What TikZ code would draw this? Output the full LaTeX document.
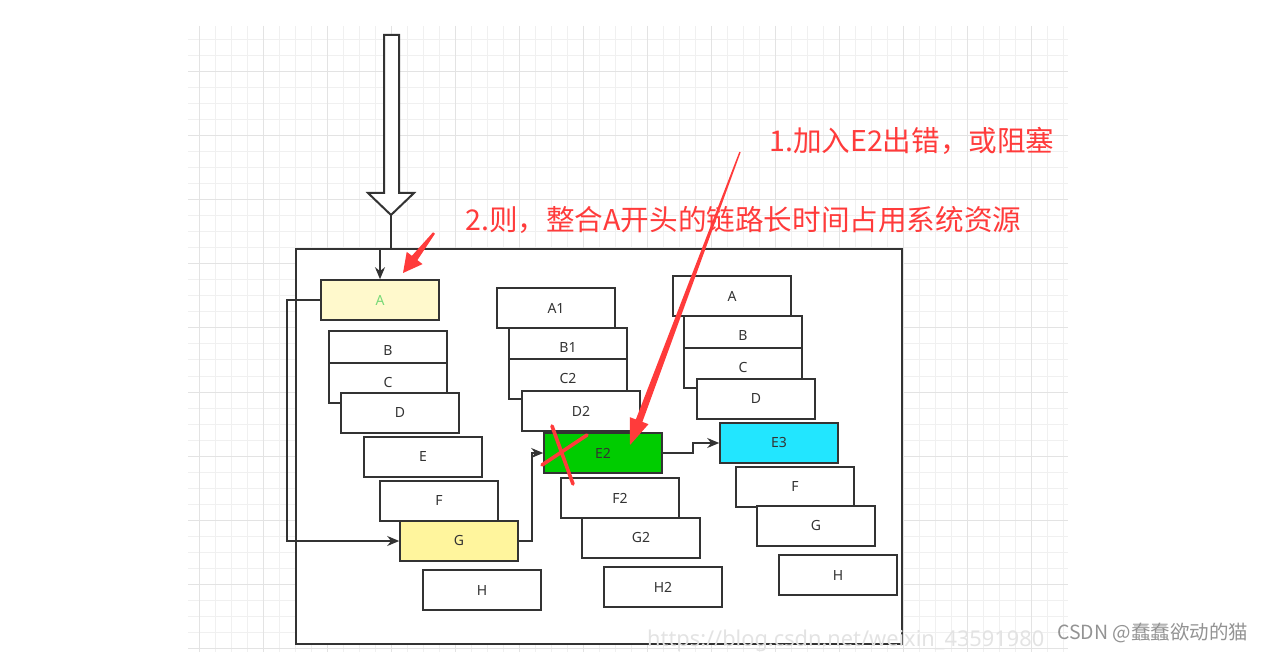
\documentclass[tikz,border=0pt]{standalone}
\usepackage{fontspec}
\setmainfont{Noto Sans}
\newfontfamily\cjk{Noto Sans CJK SC}
\usetikzlibrary{arrows.meta,calc}
\definecolor{linecol}{HTML}{333333}
\definecolor{textcol}{HTML}{333333}
\definecolor{gridcol1}{HTML}{F0F0F0}
\definecolor{gridcol2}{HTML}{E3E3E3}
\definecolor{redcol}{HTML}{FF3B3B}
\definecolor{yellowcol1}{HTML}{FFF9CC}
\definecolor{yellowcol2}{HTML}{FFF59D}
\definecolor{greencol}{HTML}{00CC00}
\definecolor{cyancol}{HTML}{22E6FF}
\definecolor{greentext}{HTML}{77D977}

\begin{document}
\begin{tikzpicture}[x=1pt,y=-1pt,
	box/.style={draw=linecol,line width=1.6pt,minimum width=118pt,minimum height=40pt,inner sep=0pt,font=\fontsize{14}{16}\selectfont},
	flow/.style={draw=linecol,line width=1.6pt,-{Stealth[length=12pt,width=10pt]}},
	note/.style={text=redcol,anchor=west,inner sep=0pt,font=\cjk\fontsize{28.6}{32}\selectfont}]
\useasboundingbox (0,0) rectangle (1264,652);
% grid
\foreach \x in {199,215,...,1063} \draw[gridcol1,line width=1pt] (\x,26) -- (\x,652);
\foreach \y in {40,56,...,648} \draw[gridcol1,line width=1pt] (188,\y) -- (1068,\y);
\foreach \x in {199,263,...,1063} \draw[gridcol2,line width=1pt] (\x,26) -- (\x,652);
\foreach \y in {72,136,...,648} \draw[gridcol2,line width=1pt] (188,\y) -- (1068,\y);
% frame and big arrow
\draw[linecol,line width=2pt,fill=white] (296,249) rectangle (902,644);
\draw[linecol,line width=2pt,fill=white] (384,35) -- (399,35) -- (399,193) -- (414,193) -- (391,215) -- (368,193) -- (384,193) -- cycle;
\coordinate (tip) at (391,215);
% chains
\foreach \name/\lbl/\x/\y/\col/\tcol in {
	c1a/A/380/300/yellowcol1/greentext,
	c1b/B/388/351/white/textcol,
	c1c/C/388/383/white/textcol,
	c1d/D/400/413/white/textcol,
	c1e/E/423/457/white/textcol,
	c1f/F/439/501/white/textcol,
	c1g/G/459/541/yellowcol2/textcol,
	c1h/H/482/590/white/textcol,
	c2a/A1/556/308/white/textcol,
	c2b/B1/568/348/white/textcol,
	c2c/C2/568/379/white/textcol,
	c2d/D2/581/411/white/textcol,
	c2e/E2/603/453/greencol/textcol,
	c2f/F2/620/498/white/textcol,
	c2g/G2/641/538/white/textcol,
	c2h/H2/663/587/white/textcol,
	c3a/A/732/296/white/textcol,
	c3b/B/743/336/white/textcol,
	c3c/C/743/368/white/textcol,
	c3d/D/756/399/white/textcol,
	c3e/E3/779/443/cyancol/textcol,
	c3f/F/795/487/white/textcol,
	c3g/G/816/526/white/textcol,
	c3h/H/838/575/white/textcol%
	}{
	\node[box,fill=\col,text=\tcol] (\name) at (\x,\y) {\lbl};
	}
\draw[flow] (tip) -- ++(0,34) -| (c1a.north);
\draw[flow] (c1a.west) -- ++(-33,0) |- (c1g.west);
\draw[flow] (c1g.east) -- ++(13,0) |- (c2e.west);
\draw[flow] (c2e.east) -- ++(30,0) |- (c3e.west);
% red marks
\draw[redcol,line width=3.6pt,line cap=round] (542,465) -- (587,435) (552,426) -- (573,484);
\coordinate (r1s) at (740,152);
\coordinate (r1t) at (630,445);
\coordinate (r1b) at ($(r1t)!26pt!(r1s)$);
\fill[redcol] ($(r1s)!0.7pt!90:(r1t)$) -- ($(r1b)!3.5pt!90:(r1t)$) -- ($(r1b)!10pt!90:(r1t)$) -- (r1t)
	-- ($(r1b)!10pt!-90:(r1t)$) -- ($(r1b)!3.5pt!-90:(r1t)$) -- ($(r1s)!0.7pt!-90:(r1t)$) -- cycle;
\coordinate (r2s) at (434,233);
\coordinate (r2t) at (403,273);
\coordinate (r2b) at ($(r2t)!19pt!(r2s)$);
\fill[redcol] ($(r2s)!1.2pt!90:(r2t)$) -- ($(r2b)!3.5pt!90:(r2t)$) -- ($(r2b)!10pt!90:(r2t)$) -- (r2t)
	-- ($(r2b)!10pt!-90:(r2t)$) -- ($(r2b)!3.5pt!-90:(r2t)$) -- ($(r2s)!1.2pt!-90:(r2t)$) -- cycle;
\node[note] (note1) at (769,141) {1.加入E2出错，或阻塞};
\node[note] (note2) at (465,220) {2.则，整合A开头的链路长时间占用系统资源};
% watermark
\node[anchor=base west,inner sep=0pt,text=gray!22,font=\fontsize{21.8}{23}\selectfont] (url) at (647,646) {https://blog.csdn.net/weixin\_43591980};
\node[anchor=west,inner sep=0pt,text=gray!85,font=\cjk\fontsize{19.5}{21}\selectfont] (csdn) at (1057,633) {CSDN @蠢蠢欲动的猫};
\end{tikzpicture}
\end{document}
